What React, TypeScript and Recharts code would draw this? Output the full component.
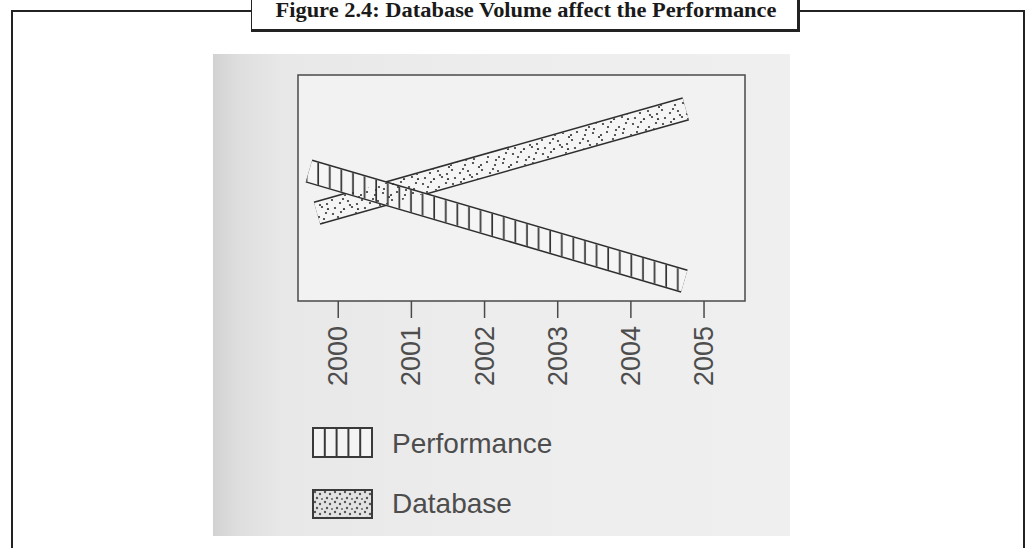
import { LineChart, Line, XAxis, YAxis, ReferenceArea } from 'recharts'

// years shown on the axis
const years = [2000, 2001, 2002, 2003, 2004, 2005]
const xDomain: [number, number] = [1999.45, 2005.56]

// band end points (x in years, y in relative units 0-100)
const perfYears = [1999.6, 2004.73]
const perfValues = [57.5, 8.8]
const dbYears = [1999.71, 2004.75]
const dbValues = [38.9, 85.0]

const rows = [
  { x: perfYears[0], perf: perfValues[0] },
  { x: dbYears[0], db: dbValues[0] },
  { x: perfYears[1], perf: perfValues[1] },
  { x: dbYears[1], db: dbValues[1] },
]

const INK = '#4a4a4a'
const FONT = '"Liberation Sans", Arial, sans-serif'

// stipple positions inside one pattern tile (decoration only)
const stipple = [
  [3, 4], [11, 2], [19, 7], [26, 3], [7, 12], [15, 15], [23, 13], [2, 20],
  [10, 23], [18, 21], [27, 24], [5, 28], [14, 29], [22, 27], [29, 17],
  [8, 7], [24, 9], [13, 19], [20, 25], [1, 15], [16, 10], [28, 29],
]

function YearTick({ x, y, payload }: any) {
  return (
    <text
      transform={`translate(${x},${y}) rotate(-90)`}
      textAnchor="end"
      dominantBaseline="central"
      fontFamily={FONT}
      fontSize={27}
      fill="#4d4d4d"
    >
      {payload.value}
    </text>
  )
}

export default function App() {
  const common = {
    type: 'linear' as const,
    dot: false,
    activeDot: false,
    isAnimationActive: false,
    connectNulls: true,
    strokeLinecap: 'butt' as const,
  }

  return (
    <div style={{ position: 'absolute', left: 0, top: 0, width: 1030, height: 548, background: '#fff', overflow: 'hidden' }}>
      <svg width={0} height={0} style={{ position: 'absolute' }}>
        <defs>
          <pattern id="hatch" width={11.6} height={10} patternUnits="userSpaceOnUse">
            <line x1={5} y1={0} x2={5} y2={10} stroke="#333" strokeWidth={1.7} />
          </pattern>
          <pattern id="dots" width={30} height={30} patternUnits="userSpaceOnUse">
            {stipple.map(([cx, cy], i) => (
              <circle key={i} cx={cx} cy={cy} r={1.1} fill="#333" />
            ))}
          </pattern>
          <pattern id="dotsDense" width={10} height={10} patternUnits="userSpaceOnUse">
            <rect width={10} height={10} fill="#e2e2e2" />
            <circle cx={2} cy={2} r={1.2} fill="#555" />
            <circle cx={7} cy={4} r={1.2} fill="#555" />
            <circle cx={4} cy={8} r={1.2} fill="#555" />
            <circle cx={9} cy={9} r={0.9} fill="#555" />
          </pattern>
        </defs>
      </svg>

      {/* frame and title box */}
      <div style={{ position: 'absolute', left: 11, top: 10, width: 1014, height: 560, border: '2px solid #222', boxSizing: 'border-box' }} />
      <div
        style={{
          position: 'absolute', left: 251, top: -4, width: 549, height: 36,
          background: '#fff', border: '1.5px solid #222', borderRightWidth: 3, borderBottomWidth: 3, boxSizing: 'border-box',
        }}
      />
      <svg width={1030} height={40} style={{ position: 'absolute', left: 0, top: 0 }}>
        <text x={526} y={17} textAnchor="middle" fontFamily='"Liberation Serif", serif' fontWeight="bold" fontSize={20} fill="#1a1a1a" textLength={501} lengthAdjust="spacingAndGlyphs">
          Figure 2.4: Database Volume affect the Performance
        </text>
      </svg>

      {/* scanned page background */}
      <div
        style={{
          position: 'absolute', left: 213, top: 54, width: 577, height: 482,
          background: 'linear-gradient(to right, #d2d2d2 0px, #dedede 25px, #e8e8e8 70px, #ededed 50%, #efefef 100%)',
        }}
      />

      <div style={{ position: 'absolute', left: 0, top: 0 }}>
        <LineChart width={1030} height={548} data={rows} margin={{ top: 75, left: 298, right: 285, bottom: 147 }}>
          <XAxis
            dataKey="x"
            type="number"
            domain={xDomain}
            ticks={years}
            allowDataOverflow
            axisLine={false}
            tickLine={{ stroke: INK, strokeWidth: 1.5 }}
            tickSize={17}
            tickMargin={8}
            height={100}
            tick={<YearTick />}
            interval={0}
          />
          <YAxis type="number" domain={[0, 100]} hide />
          <ReferenceArea x1={xDomain[0]} x2={xDomain[1]} y1={0} y2={100} fill="#f2f2f2" fillOpacity={1} stroke={INK} strokeWidth={1.5} />
          <Line {...common} dataKey="db" stroke="#2e2e2e" strokeWidth={24} />
          <Line {...common} dataKey="db" stroke="#f5f5f5" strokeWidth={21} />
          <Line {...common} dataKey="perf" stroke="#2e2e2e" strokeWidth={24} />
          <Line {...common} dataKey="perf" stroke="#f5f5f5" strokeWidth={21} />
          <Line {...common} dataKey="perf" stroke="url(#hatch)" strokeWidth={21} />
          <Line {...common} dataKey="db" stroke="url(#dots)" strokeWidth={21} />
        </LineChart>
      </div>

      {/* legend */}
      <svg width={400} height={110} style={{ position: 'absolute', left: 300, top: 420 }}>
        <g transform="translate(13,8)">
          <rect x={0} y={0} width={59} height={29} fill="#f4f4f4" stroke="#3a3a3a" strokeWidth={2} />
          {[1, 2, 3, 4].map((k) => (
            <line key={k} x1={k * 11.8} y1={0} x2={k * 11.8} y2={29} stroke="#3a3a3a" strokeWidth={2} />
          ))}
          <text x={79} y={25} fontFamily={FONT} fontSize={28} fill="#4d4d4d">Performance</text>
        </g>
        <g transform="translate(13,70)">
          <rect x={0} y={0} width={59} height={28} fill="url(#dotsDense)" stroke="#3a3a3a" strokeWidth={2} />
          <text x={79} y={23} fontFamily={FONT} fontSize={28} fill="#4d4d4d">Database</text>
        </g>
      </svg>
    </div>
  )
}
